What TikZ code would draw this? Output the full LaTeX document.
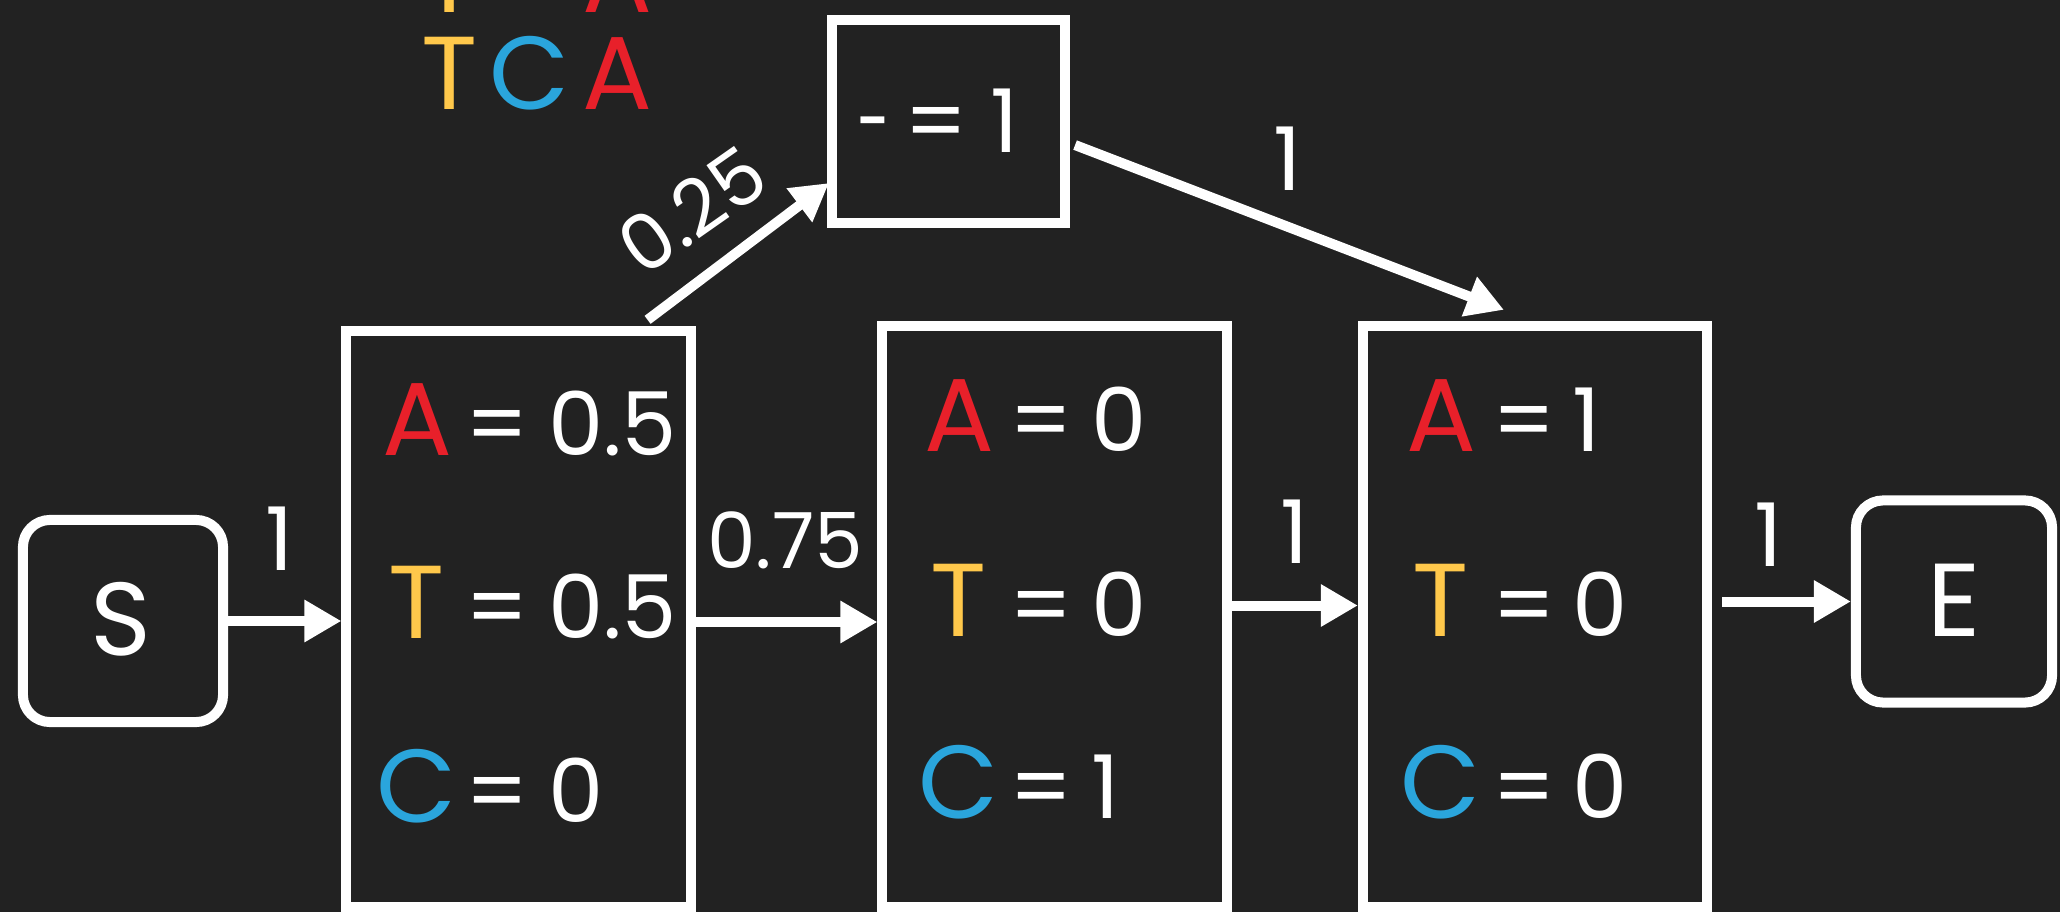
\documentclass[tikz,border=0pt]{standalone}
\usepackage{fontspec}
\setmainfont{Poppins}
\usetikzlibrary{arrows.meta,calc}

\definecolor{bg}{HTML}{222222}
\definecolor{baseA}{HTML}{E8202A}
\definecolor{baseT}{HTML}{FFC84B}
\definecolor{baseC}{HTML}{2AA5DC}

\newcommand\letterfont{\fontsize{29.5}{32}\selectfont}
\newcommand\numfont{\fontsize{25}{28}\selectfont}
\newcommand\smallnumfont{\fontsize{22}{24}\selectfont}

% one line of a probability box: name, letter, colour, letter x, '=' x, value x, baseline, value
\newcommand\probrow[8]{%
  \node[basech, text=#3] (#1l) at (#4,#7) {#2};
  \node[eqsign] (#1e) at (#5,#7) {=};
  \node[numval] (#1n) at (#6,#7) {#8};
}

\begin{document}
\begin{tikzpicture}[x=0.01cm, y=-0.01cm,
  every node/.style={text=white, inner sep=0pt, outer sep=0pt},
  frame/.style={draw=white, line width=0.1cm},
  endbox/.style={frame, rounded corners=0.27cm,
    minimum width=2cm, minimum height=2.02cm},
  probbox/.style={frame, minimum width=3.44cm},
  arr/.style={draw=white, line width=0.1cm,
    -{Triangle[length=0.37cm, width=0.40cm]}},
  arrin/.style={arr, shorten >=0.05cm},
  basech/.style={font=\letterfont, anchor=base},
  eqsign/.style={font=\numfont, anchor=base},
  numval/.style={font=\numfont, anchor=base west},
  weight/.style={font=\numfont, anchor=base},
]
\fill[bg] (0,0) rectangle (2060,912);
\clip (0,0) rectangle (2060,912);

% aligned sequences
\node[basech, text=baseT] (r1t) at (450,12) {T};
\node[basech, text=baseA] (r1a) at (617,12) {A};
\node[basech, text=baseT] (r2t) at (450,110) {T};
\node[basech, text=baseC] (r2c) at (530,110) {C};
\node[basech, text=baseA] (r2a) at (617,110) {A};

% start and end states
\node[endbox] (S) at (123,621) {};
\node[endbox, minimum width=1.96cm] (E) at (1954,601.5) {};
\node[basech] (St) at (121,655) {S};
\node[basech] (Et) at (1954,636) {E};

% emission boxes
\node[probbox, minimum height=5.76cm] (b1) at (518.5,619) {};
\node[probbox, minimum height=5.81cm] (b2) at (1054.5,616.5) {};
\node[probbox, minimum height=5.81cm] (b3) at (1535,616.5) {};
\node[frame, minimum width=2.33cm, minimum height=2.03cm] (g) at (948.5,121.5) {};

\probrow{a1}{A}{baseA}{417}{497}{548}{455}{0.5}
\probrow{t1}{T}{baseT}{417}{497}{548}{638}{0.5}
\probrow{c1}{C}{baseC}{417}{497}{548}{822}{0}

\probrow{a2}{A}{baseA}{959}{1041}{1091}{451}{0}
\probrow{t2}{T}{baseT}{959}{1041}{1091}{636}{0}
\probrow{c2}{C}{baseC}{959}{1041}{1091}{818}{1}

\probrow{a3}{A}{baseA}{1441}{1524}{1572}{451}{1}
\probrow{t3}{T}{baseT}{1441}{1524}{1572}{636}{0}
\probrow{c3}{C}{baseC}{1441}{1524}{1572}{818}{0}

% gap state
\node[eqsign] (gd) at (874,152) {\scalebox{0.68}[1]{-}};
\node[eqsign] (ge) at (936,152) {=};
\node[eqsign] (gn) at (1005,152) {1};

% transitions
\draw[arrin] (S.east) -- (S.east -| b1.west);
\coordinate (m1) at ($(b1.east)+(0,3)$);
\draw[arrin] (m1) -- (m1 -| b2.west);
\coordinate (m2) at ($(b2.east)+(0,-11)$);
\draw[arrin] (m2) -- (m2 -| b3.west);
\coordinate (m3) at ($(E.west -| b3.east)+(15,0)$);
\draw[arrin] (m3) -- (E.west);

\coordinate (p1) at ($(b1.north east)+(-43,-11)$);
\coordinate (p2) at ($(g.south west)+(-3,-40)$);
\draw[arr] (p1) -- (p2);
\coordinate (q1) at ($(g.south east)+(10,-78)$);
\coordinate (q2) at ($(b3.north west)+(141,-16)$);
\draw[arr] (q1) -- (q2);

% transition weights
\node[weight] (w1) at (280,570) {1};
\node[weight, font=\smallnumfont] (w2) at (785,568) {0.75};
\node[weight] (w3) at (1295,563) {1};
\node[weight] (w4) at (1769,566) {1};
\node[weight] (w5) at (1288,190) {1};
\node[font=\smallnumfont, rotate=35] (w6) at (692,210) {0.25};
\end{tikzpicture}
\end{document}
